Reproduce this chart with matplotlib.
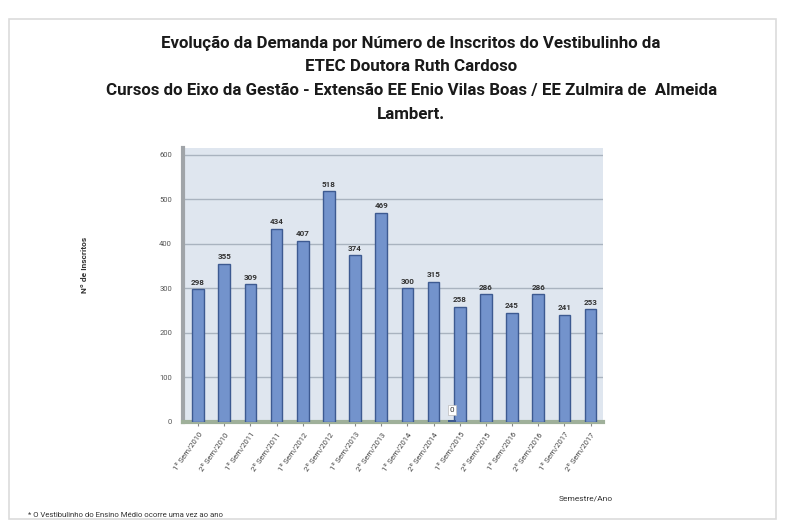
import numpy as np
import matplotlib.pyplot as plt
from matplotlib.patches import Rectangle

plt.rcParams['font.family'] = ['Roboto', 'DejaVu Sans']

# data
semestres = ['1º Sem/2010', '2º Sem/2010', '1º Sem/2011', '2º Sem/2011',
             '1º Sem/2012', '2º Sem/2012', '1º Sem/2013', '2º Sem/2013',
             '1º Sem/2014', '2º Sem/2014', '1º Sem/2015', '2º Sem/2015',
             '1º Sem/2016', '2º Sem/2016', '1º Sem/2017', '2º Sem/2017']
inscritos = [298, 355, 309, 434, 407, 518, 374, 469, 300, 315, 258, 286, 245, 286, 241, 253]
zero_idx = 10
zero_val = 0

titulo = ('Evolução da Demanda por Número de Inscritos do Vestibulinho da\n'
          'ETEC Doutora Ruth Cardoso\n'
          'Cursos do Eixo da Gestão - Extensão EE Enio Vilas Boas / EE Zulmira de  Almeida\n'
          'Lambert.')

fig = plt.figure(figsize=(7.86, 5.30), dpi=100)
fig.patch.set_facecolor('white')

# faint frame of the pasted chart
fig.add_artist(Rectangle((0.012, 0.02), 0.975, 0.945, transform=fig.transFigure,
                         fill=False, ec='#dcdcdc', lw=1.2))

fig.text(0.523, 0.933, titulo, ha='center', va='top', fontsize=12.2,
         fontweight='bold', linespacing=1.72, color='#1a1a1a')

ax = fig.add_axes([0.233, 0.204, 0.534, 0.517])
ax.set_facecolor('#dfe6ef')

x = np.arange(len(semestres))
ax.bar(x, inscritos, width=0.45, color='#7393cc', edgecolor='#3d5a91', lw=1.0, zorder=3)
for xi, v in zip(x, inscritos):
    ax.text(xi, v + 8, str(v), ha='center', va='bottom', fontsize=5.8,
            fontweight='bold', color='#333333', zorder=4)

ax.bar(zero_idx - 0.3, 4, width=0.3, color='#3d5a91', zorder=3)
ax.text(zero_idx - 0.3, 20, str(zero_val), ha='center', va='bottom', fontsize=5.8,
        color='#333333', zorder=4,
        bbox=dict(boxstyle='square,pad=0.25', fc='white', ec='#bbbbbb', lw=0.5))

ax.set_xlim(-0.57, 15.47)
ax.set_ylim(0, 615)
ax.set_yticks(range(0, 601, 100))
ax.tick_params(axis='y', labelsize=5.5, colors='#555555', length=0, pad=8)
ax.grid(axis='y', color='#a9b3bf', lw=1.0, zorder=1)
ax.set_xticks(x)
ax.set_xticklabels(semestres, rotation=55, ha='right', rotation_mode='anchor',
                   fontsize=5.5, color='#444444')
ax.tick_params(axis='x', length=3, color='#888888')

for s in ['top', 'right']:
    ax.spines[s].set_visible(False)
ax.spines['left'].set_color('#a0a4a8')
ax.spines['left'].set_linewidth(3)
ax.spines['bottom'].set_color('#9fb09a')
ax.spines['bottom'].set_linewidth(3)

fig.text(0.108, 0.50, 'Nº de Inscritos', rotation=90, ha='center', va='center',
         fontsize=6, fontweight='bold', color='#333333')
fig.text(0.745, 0.06, 'Semestre/Ano', ha='center', va='center', fontsize=6, color='#333333')
fig.text(0.035, 0.028, '* O Vestibulinho do Ensino Médio ocorre uma vez ao ano',
         ha='left', va='center', fontsize=5.6, color='#333333')

fig.savefig('out.png', dpi=100)
